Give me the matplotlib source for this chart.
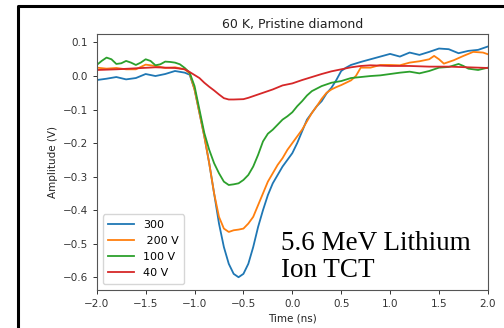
import matplotlib
matplotlib.use("Agg")
import matplotlib.pyplot as plt
from matplotlib.lines import Line2D

# 300 V (blue)
t_300 = [-2.0, -1.9, -1.8, -1.7, -1.6, -1.5, -1.4, -1.3, -1.2, -1.1, -1.05, -1.0, -0.95,
         -0.9, -0.85, -0.8, -0.75, -0.7, -0.65, -0.6, -0.55, -0.5, -0.45, -0.4, -0.35,
         -0.3, -0.25, -0.2, -0.15, -0.1, -0.05, 0.0, 0.05, 0.1, 0.15, 0.2, 0.25, 0.3,
         0.35, 0.4, 0.45, 0.5, 0.55, 0.6, 0.7, 0.8, 0.9, 1.0, 1.1, 1.2, 1.3, 1.4, 1.5,
         1.6, 1.7, 1.8, 1.9, 2.0]
v_300 = [-0.012, -0.008, -0.003, -0.01, -0.006, 0.006, 0.0, 0.006, 0.015, 0.01, 0.004, -0.04, -0.11,
         -0.18, -0.26, -0.35, -0.44, -0.51, -0.56, -0.59, -0.6, -0.59, -0.56, -0.51, -0.45,
         -0.40, -0.355, -0.32, -0.295, -0.27, -0.25, -0.23, -0.2, -0.165, -0.13, -0.11, -0.09, -0.075,
         -0.052, -0.035, -0.012, 0.015, 0.025, 0.033, 0.042, 0.05, 0.058, 0.066, 0.058, 0.07, 0.063, 0.072, 0.082,
         0.08, 0.068, 0.075, 0.078, 0.088]

# 200 V (orange)
t_200 = [-2.0, -1.9, -1.8, -1.7, -1.6, -1.5, -1.4, -1.3, -1.2, -1.1, -1.05, -1.0, -0.95,
         -0.9, -0.85, -0.8, -0.75, -0.7, -0.65, -0.6, -0.55, -0.5, -0.45, -0.4, -0.35,
         -0.3, -0.25, -0.2, -0.15, -0.1, -0.05, 0.0, 0.05, 0.1, 0.15, 0.2, 0.25, 0.3,
         0.35, 0.4, 0.45, 0.5, 0.55, 0.6, 0.65, 0.7, 0.8, 0.9, 1.0, 1.1, 1.2, 1.3, 1.4,
         1.45, 1.5, 1.55, 1.65, 1.75, 1.85, 1.95, 2.0]
v_200 = [0.025, 0.022, 0.024, 0.02, 0.02, 0.034, 0.03, 0.024, 0.026, 0.02, 0.008, -0.04, -0.11,
         -0.18, -0.26, -0.35, -0.42, -0.455, -0.465, -0.46, -0.458, -0.455, -0.44, -0.42, -0.385,
         -0.35, -0.315, -0.29, -0.265, -0.245, -0.22, -0.2, -0.18, -0.16, -0.135, -0.11, -0.09, -0.068,
         -0.05, -0.04, -0.033, -0.027, -0.02, -0.013, 0.0, 0.025, 0.025, 0.033, 0.033, 0.032, 0.04, 0.044, 0.05,
         0.06, 0.05, 0.037, 0.047, 0.06, 0.072, 0.07, 0.065]

# 100 V (green)
t_100 = [-2.0, -1.95, -1.9, -1.85, -1.8, -1.75, -1.7, -1.65, -1.6, -1.55, -1.5, -1.45, -1.4,
         -1.35, -1.3, -1.25, -1.2, -1.15, -1.1, -1.05, -1.0, -0.95, -0.9, -0.85, -0.8,
         -0.75, -0.7, -0.65, -0.6, -0.55, -0.5, -0.45, -0.4, -0.35, -0.3, -0.25, -0.2,
         -0.15, -0.1, -0.05, 0.0, 0.05, 0.1, 0.15, 0.2, 0.3, 0.4, 0.5, 0.6, 0.7, 0.8,
         0.9, 1.0, 1.1, 1.2, 1.3, 1.4, 1.5, 1.6, 1.7, 1.75, 1.8, 1.9, 2.0]
v_100 = [0.033, 0.045, 0.055, 0.05, 0.036, 0.038, 0.045, 0.04, 0.033, 0.04, 0.05, 0.045, 0.032,
         0.035, 0.043, 0.042, 0.04, 0.035, 0.024, 0.01, -0.03, -0.1, -0.17, -0.22, -0.26,
         -0.29, -0.315, -0.325, -0.323, -0.32, -0.31, -0.295, -0.27, -0.235, -0.195, -0.172, -0.16,
         -0.145, -0.13, -0.12, -0.108, -0.09, -0.075, -0.058, -0.045, -0.03, -0.02, -0.015, -0.006, -0.003, 0.0,
         0.002, 0.006, 0.01, 0.013, 0.008, 0.015, 0.025, 0.027, 0.036, 0.03, 0.022, 0.018, 0.025]

# 40 V (red)
t_40 = [-2.0, -1.8, -1.6, -1.4, -1.2, -1.1, -1.05, -1.0, -0.95, -0.9, -0.85, -0.8, -0.75,
        -0.7, -0.65, -0.6, -0.5, -0.45, -0.4, -0.35, -0.3, -0.2, -0.1, 0.0, 0.1, 0.2,
        0.3, 0.4, 0.5, 0.6, 0.7, 0.8, 1.0, 1.2, 1.4, 1.6, 1.8, 2.0]
v_40 = [0.018, 0.02, 0.023, 0.026, 0.024, 0.02, 0.012, 0.003, -0.006, -0.02, -0.032, -0.043, -0.055,
        -0.066, -0.07, -0.07, -0.069, -0.065, -0.06, -0.055, -0.05, -0.04, -0.028, -0.022, -0.012, -0.003,
        0.006, 0.014, 0.02, 0.026, 0.03, 0.032, 0.03, 0.03, 0.028, 0.028, 0.026, 0.024]

labels = ["300", " 200 V", "100 V", "40 V"]

fig = plt.figure(figsize=(5.04, 3.28), dpi=100)
ax = fig.add_axes([0.192, 0.116, 0.776, 0.780])

lw = 1.3
ax.plot(t_300, v_300, color="tab:blue", lw=lw, label=labels[0])
ax.plot(t_200, v_200, color="tab:orange", lw=lw, label=labels[1])
ax.plot(t_100, v_100, color="tab:green", lw=lw, label=labels[2])
ax.plot(t_40, v_40, color="tab:red", lw=lw, label=labels[3])

ax.set_xlim(-2.0, 2.0)
ax.set_ylim(-0.638, 0.125)
ax.set_xticks([-2.0, -1.5, -1.0, -0.5, 0.0, 0.5, 1.0, 1.5, 2.0])
ax.set_yticks([0.1, 0.0, -0.1, -0.2, -0.3, -0.4, -0.5, -0.6])
ax.tick_params(labelsize=7.5, length=3, width=0.7, colors="#333333")
for s in ax.spines.values():
    s.set_linewidth(0.8)
    s.set_color("#555555")

ax.set_title("60 K, Pristine diamond", fontsize=9, pad=4.5, color="#222222")
ax.set_xlabel("Time (ns)", fontsize=7.5, labelpad=3, color="#222222")
ax.set_ylabel("Amplitude (V)", fontsize=7.5, labelpad=3, color="#222222")

ax.legend(loc="lower left", fontsize=8, handlelength=2.3, borderpad=0.5,
          labelspacing=0.55, borderaxespad=0.55)

ax.text(0.472, 0.05, "5.6 MeV Lithium\nIon TCT", transform=ax.transAxes,
        family="Liberation Serif", fontsize=19.5, linespacing=1.1,
        ha="left", va="baseline", color="black")

# outer slide frame (top and left only)
fig.add_artist(Line2D([0.036, 0.036, 1.0], [0.0, 0.982, 0.982],
                      transform=fig.transFigure, color="black", lw=2.2))

fig.savefig("out.png", dpi=100)
